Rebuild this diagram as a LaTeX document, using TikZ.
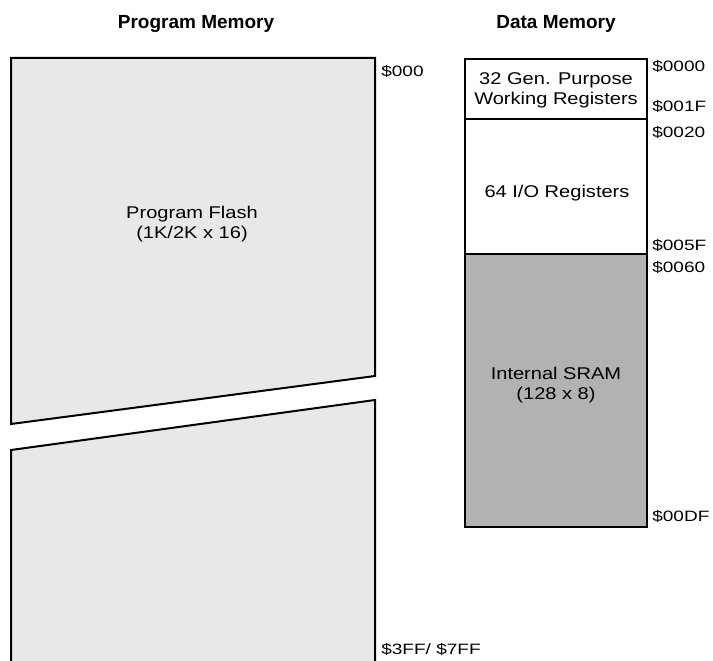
\documentclass[tikz,border=0pt]{standalone}
\usepackage{fontspec}
\setmainfont{Liberation Sans}
\begin{document}
\begin{tikzpicture}[x=1pt,y=-1pt,
  titletext/.style={font=\fontsize{19}{22}\selectfont\bfseries, inner sep=0pt, anchor=base},
  bodytext/.style={font=\fontsize{17}{20}\selectfont, xscale=1.18, inner sep=0pt, align=center},
  addrtext/.style={font=\fontsize{15}{18}\selectfont, xscale=1.27, inner sep=0pt, anchor=base west},
  outline/.style={draw=black, line width=2pt, line join=miter},
  flashfill/.style={fill=black!9},
  sramfill/.style={fill=black!30},
]
\useasboundingbox (0,0) rectangle (713,661);

% titles
\node[titletext] (tpm) at (196,29) {Program Memory};
\node[titletext] (tdm) at (556,29) {Data Memory};

% program memory, upper part
\path[flashfill] (11,58) -- (375,58) -- (375,376) -- (11,424) -- cycle;
\draw[outline] (11,58) -- (375,58) -- (375,376) -- (11,424) -- cycle;
% program memory, lower part
\path[flashfill] (11,661) -- (11,450) -- (375,400) -- (375,661) -- cycle;
\draw[outline] (11,662) -- (11,450) -- (375,400) -- (375,662);

\node[bodytext] (flash) at (192,224) {Program Flash\\(1K/2K x 16)};

\node[addrtext] (a000) at (381,77) {\$000};
\node[addrtext] (a3ff) at (381,654) {\$3FF/ \$7FF};

% data memory
\path[sramfill] (465,254) rectangle (647,527);
\draw[draw=black, line width=1.6pt] (465,119) -- (647,119);
\draw[draw=black, line width=1.6pt] (465,254) -- (647,254);
\draw[outline, line width=2.6pt] (465,59) rectangle (647,527);

\node[bodytext] (gpr) at (556,90.5) {32 Gen. Purpose\\Working Registers};
\node[bodytext, anchor=base] (io) at (557,197) {64 I/O Registers};
\node[bodytext] (sram) at (556,385) {Internal SRAM\\(128 x 8)};

\node[addrtext] (d0000) at (652,72) {\$0000};
\node[addrtext] (d001f) at (652,111) {\$001F};
\node[addrtext] (d0020) at (652,137) {\$0020};
\node[addrtext] (d005f) at (652,250) {\$005F};
\node[addrtext] (d0060) at (652,272) {\$0060};
\node[addrtext] (d00df) at (652,521) {\$00DF};
\end{tikzpicture}
\end{document}
